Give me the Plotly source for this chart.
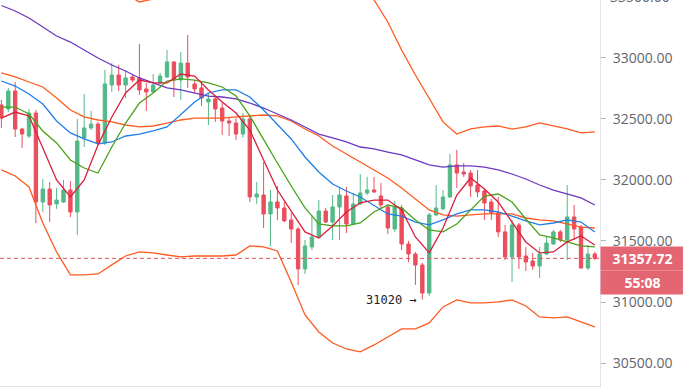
import plotly.graph_objects as go

# ---------------- data ----------------
candle_idx = list(range(87))
opens = [32613, 32580, 32727, 32416, 32359, 32547, 31819, 31925, 31803, 31819,
         31917, 31737, 32343, 32425, 32457, 32302, 32776, 32858, 32776, 32842,
         32834, 32744, 32719, 32793, 32842, 32965, 32817, 32956, 32785, 32752,
         32637, 32662, 32588, 32482, 32465, 32375, 32498, 31860, 31876, 31721,
         31819, 31770, 31672, 31598, 31271, 31451, 31533, 31745, 31655, 31778,
         31868, 31639, 31803, 31893, 31917, 31868, 31778, 31598, 31770, 31475,
         31393, 31303, 31074, 31713, 31762, 31860, 32122, 32064, 32056, 31958,
         31909, 31819, 31729, 31574, 31369, 31631, 31377, 31336, 31295, 31393,
         31475, 31574, 31508, 31696, 31614, 31279, 31393]
highs = [32654, 32752, 32801, 32425, 32580, 32572, 32007, 31983, 31934, 31999,
         31991, 32498, 32703, 32564, 32474, 32899, 32956, 32940, 32891, 32858,
         33112, 32793, 32866, 32875, 33063, 32973, 33046, 33186, 32817, 32801,
         32711, 32678, 32629, 32515, 32506, 32547, 32531, 31983, 32146, 31917,
         31950, 31819, 31729, 31614, 31508, 31713, 31835, 31770, 31876, 31942,
         31942, 31893, 32048, 32024, 32024, 31974, 31795, 31827, 31795, 31500,
         31410, 31320, 31729, 31958, 31917, 32212, 32245, 32138, 32081, 32081,
         31934, 31844, 31860, 31631, 31672, 31647, 31451, 31402, 31451, 31533,
         31590, 31590, 31958, 31795, 31631, 31467, 31410]
lows = [32425, 32555, 32351, 32261, 32343, 31647, 31737, 31655, 31762, 31811,
        31696, 31549, 32269, 32408, 32285, 32285, 32719, 32727, 32670, 32801,
        32695, 32564, 32711, 32785, 32834, 32678, 32654, 32752, 32711, 32605,
        32449, 32474, 32367, 32359, 32326, 32343, 31819, 31803, 31606, 31459,
        31672, 31655, 31483, 31140, 31230, 31426, 31524, 31647, 31508, 31508,
        31565, 31631, 31795, 31876, 31893, 31770, 31557, 31574, 31426, 31328,
        31140, 31020, 31050, 31704, 31754, 31852, 31934, 32024, 31860, 31860,
        31672, 31672, 31533, 31344, 31164, 31271, 31254, 31262, 31197, 31385,
        31467, 31492, 31344, 31508, 31271, 31262, 31344]
closes = [32506, 32727, 32416, 32375, 32547, 31819, 31925, 31795, 31835, 31917,
          31737, 32318, 32425, 32457, 32302, 32785, 32858, 32776, 32834, 32817,
          32736, 32719, 32776, 32850, 32965, 32817, 32956, 32842, 32744, 32670,
          32662, 32580, 32482, 32465, 32375, 32498, 31860, 31884, 31721, 31819,
          31770, 31664, 31598, 31271, 31459, 31533, 31745, 31655, 31778, 31876,
          31639, 31803, 31893, 31917, 31901, 31795, 31606, 31778, 31475, 31393,
          31303, 31074, 31713, 31770, 31860, 32122, 32056, 32048, 31950, 31901,
          31811, 31729, 31574, 31369, 31631, 31369, 31328, 31295, 31393, 31483,
          31574, 31508, 31696, 31598, 31279, 31393, 31357.72]

line_x = list(range(0, 87, 2))
ma_fast = [32506, 32555, 32523, 32261, 31999, 31860, 31999, 32285, 32515, 32711,
           32817, 32793, 32793, 32866, 32850, 32736, 32637, 32547, 32408, 32163,
           31917, 31745, 31574, 31524, 31623, 31737, 31811, 31835, 31835, 31754,
           31533, 31402, 31606, 31876, 32015, 31925, 31819, 31655, 31492, 31402,
           31410, 31492, 31541, 31467]
ma_mid = [32596, 32596, 32539, 32400, 32302, 32163, 32097, 32056, 32269, 32465,
          32629, 32711, 32809, 32826, 32817, 32793, 32760, 32686, 32523, 32326,
          32138, 31950, 31770, 31639, 31623, 31623, 31647, 31737, 31794, 31770,
          31672, 31590, 31574, 31639, 31754, 31868, 31884, 31819, 31680, 31549,
          31525, 31492, 31459, 31451]
ma_slow = [32809, 32768, 32703, 32621, 32482, 32384, 32335, 32294, 32310, 32359,
           32375, 32400, 32433, 32531, 32637, 32711, 32736, 32736, 32678, 32572,
           32457, 32335, 32187, 32064, 31966, 31909, 31860, 31794, 31721, 31704,
           31655, 31631, 31672, 31721, 31754, 31754, 31737, 31704, 31664, 31631,
           31647, 31672, 31655, 31574]
ma_long = [33427, 33382, 33325, 33251, 33177, 33128, 33063, 32997, 32940, 32891,
           32834, 32793, 32752, 32736, 32711, 32686, 32678, 32662, 32629, 32588,
           32539, 32490, 32433, 32375, 32343, 32310, 32269, 32253, 32228, 32204,
           32163, 32122, 32105, 32114, 32114, 32105, 32081, 32048, 32007, 31958,
           31917, 31884, 31852, 31794]
bb_upper = [33668, 33652, 33660, 33873, 33930, 33922, 33808, 33750, 33644, 33521,
            33456, 33480, 33546, 33611, 33636, 33636, 33636, 33644, 33587, 33611,
            33627, 33799, 33938, 33963, 33889, 33808, 33701, 33472, 33292, 33063,
            32858, 32670, 32474, 32375, 32417, 32433, 32441, 32416, 32433, 32466,
            32441, 32417, 32384, 32392]
bb_mid = [32875, 32842, 32801, 32760, 32670, 32572, 32515, 32490, 32474, 32449,
          32433, 32441, 32465, 32490, 32506, 32506, 32506, 32515, 32523, 32531,
          32523, 32482, 32416, 32359, 32277, 32212, 32146, 32081, 32015, 31934,
          31844, 31754, 31713, 31704, 31713, 31721, 31721, 31721, 31688, 31672,
          31664, 31639, 31614, 31606]
bb_lower = [32081, 32032, 31942, 31647, 31410, 31222, 31222, 31230, 31304, 31377,
            31410, 31402, 31385, 31369, 31377, 31377, 31377, 31385, 31459, 31451,
            31418, 31164, 30894, 30755, 30665, 30616, 30592, 30649, 30714, 30780,
            30780, 30829, 30960, 31017, 30993, 30993, 31001, 31017, 30968, 30878,
            30870, 30878, 30837, 30796]

y_ticks = [30500, 31000, 31500, 32000, 32500, 33000, 33500]
y_range = [30313, 33472]
x_range = [-0.203, 86.75]
last_price = closes[-1]
countdown = "55:08"
low_value = 31020
low_index = 61

# ---------------- style ----------------
UP = "#53b987"
DOWN = "#eb4d5c"
LABEL_BG = "#e46673"
AXIS_GRAY = "#e0e3eb"
TEXT_GRAY = "#62656e"

fig = go.Figure()

line_specs = [
    (bb_upper, "#ff5a1f"),
    (bb_mid, "#ff5a1f"),
    (bb_lower, "#ff5a1f"),
    (ma_long, "#6c37c2"),
    (ma_slow, "#1f7fe6"),
    (ma_mid, "#4aa11a"),
    (ma_fast, "#d81f3b"),
]
for vals, col in line_specs:
    fig.add_trace(go.Scatter(x=line_x, y=vals, mode="lines",
                             line=dict(color=col, width=1.3),
                             hoverinfo="skip"))

fig.add_trace(go.Candlestick(
    x=candle_idx, open=opens, high=highs, low=lows, close=closes,
    increasing=dict(line=dict(color=UP, width=1), fillcolor=UP),
    decreasing=dict(line=dict(color=DOWN, width=1), fillcolor=DOWN),
    whiskerwidth=0, hoverinfo="skip"))

# current price dashed line
fig.add_shape(type="line", xref="paper", x0=0, x1=1, yref="y",
              y0=last_price, y1=last_price,
              line=dict(color="#e0525f", width=1, dash="4px,3px"))

# price & countdown boxes on the axis
fig.add_annotation(xref="paper", x=1, xanchor="left", yref="y", y=last_price,
                   yanchor="middle", text="<b>%.2f</b>" % last_price,
                   showarrow=False, bgcolor=LABEL_BG, width=83, height=23,
                   borderpad=0, align="center",
                   font=dict(color="white", size=14, family="Open Sans"))
fig.add_annotation(xref="paper", x=1, xanchor="left", yref="y", y=last_price,
                   yanchor="top", yshift=-12, text="<b>%s</b>" % countdown,
                   showarrow=False, bgcolor=LABEL_BG, width=83, height=23,
                   borderpad=0, align="center",
                   font=dict(color="white", size=14, family="Open Sans"))

# low marker
fig.add_annotation(x=low_index, y=low_value, xanchor="right", yanchor="middle",
                   xshift=-3, text="%d \u2192" % low_value, showarrow=False,
                   font=dict(color="#222222", size=12, family="DejaVu Sans Mono"))

# partially visible top tick label
frac_top = (y_ticks[-1] - y_range[0]) / (y_range[1] - y_range[0])
fig.add_annotation(xref="paper", x=1, xanchor="left", xshift=8,
                   yref="paper", y=frac_top, yanchor="middle",
                   text="%.2f" % y_ticks[-1], showarrow=False,
                   font=dict(color=TEXT_GRAY, size=14, family="Open Sans"))

fig.update_layout(
    width=683, height=389,
    margin=dict(l=0, r=83, t=0, b=3),
    paper_bgcolor="white", plot_bgcolor="white",
    showlegend=False, hovermode=False,
    xaxis=dict(range=x_range, showticklabels=False, showgrid=False,
               zeroline=False, showline=True, linecolor=AXIS_GRAY,
               linewidth=1, rangeslider=dict(visible=False), ticks=""),
    yaxis=dict(range=y_range, side="right", showgrid=False, zeroline=False,
               showline=True, linecolor=AXIS_GRAY, linewidth=1,
               tickvals=y_ticks, ticktext=["%.2f" % v for v in y_ticks],
               ticks="outside", ticklen=5, tickcolor="#b2b5be",
               ticklabelstandoff=4,
               tickfont=dict(color=TEXT_GRAY, size=14, family="Open Sans")),
)

fig.write_html("out.html", config={"displayModeBar": False},
               post_script="document.body.style.margin='0px';"
                           "document.body.style.overflow='hidden';")
